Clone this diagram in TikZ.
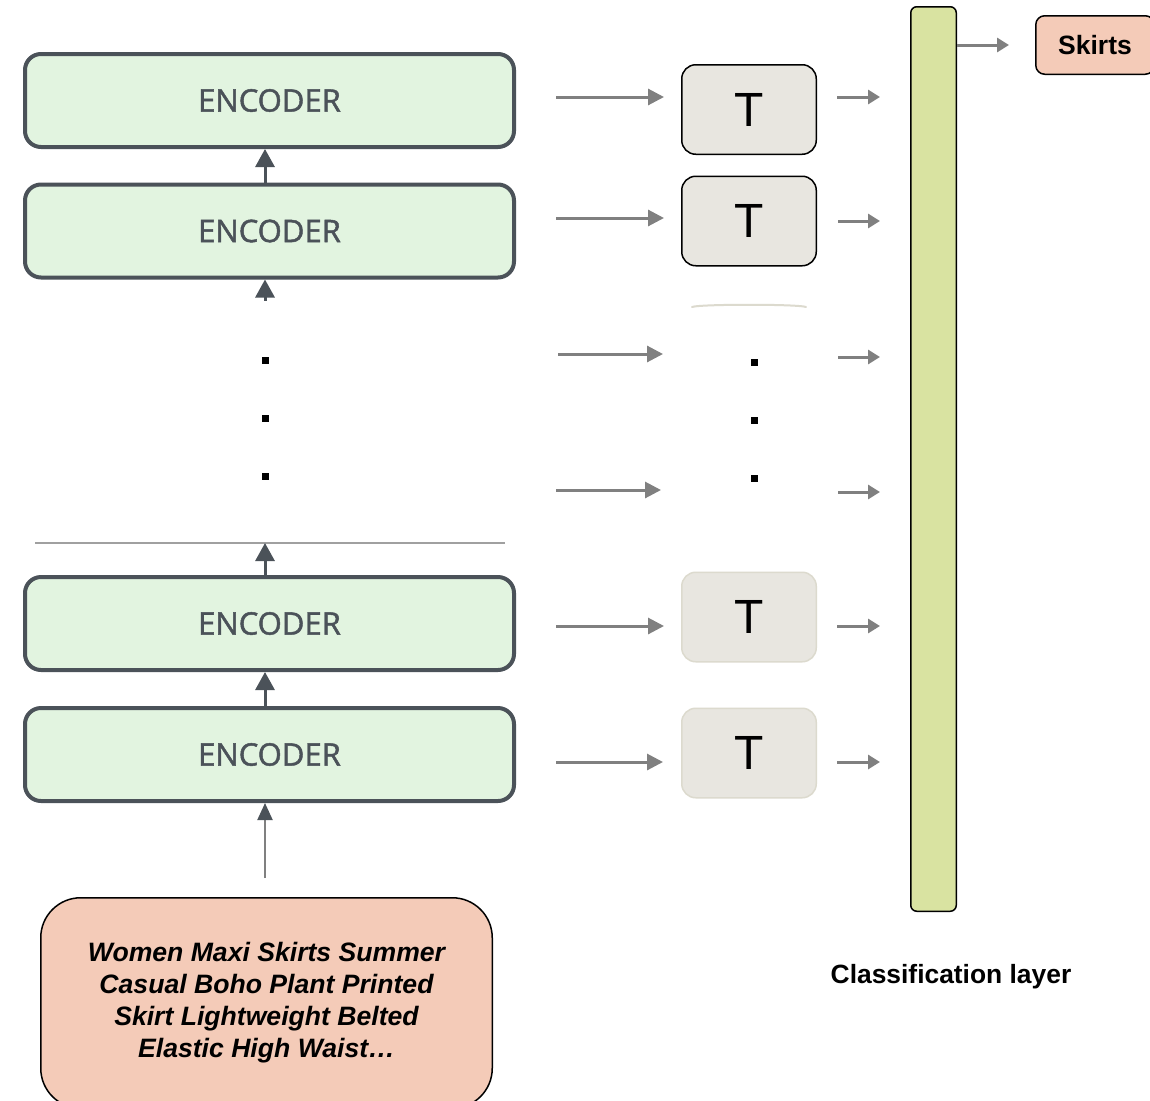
\documentclass[tikz,border=0pt]{standalone}
\usepackage{fontspec}
\setmainfont{Liberation Sans}
\newfontfamily\encfont[FakeBold=1.5]{Open Sans}
\usetikzlibrary{arrows.meta}
\definecolor{encfill}{HTML}{E2F4E0}
\definecolor{encdraw}{HTML}{4B5259}
\definecolor{tfill}{HTML}{E8E6E0}
\definecolor{tlight}{HTML}{DCDACE}
\definecolor{barfill}{HTML}{D9E3A1}
\definecolor{peach}{HTML}{F4CBB8}
\definecolor{arrgray}{HTML}{808080}
\definecolor{cutgray}{HTML}{A0A0A0}
\tikzset{
  enc/.style={draw=encdraw, line width=4pt, fill=encfill, rounded corners=16pt,
    minimum width=489pt, minimum height=93pt, inner sep=0pt,
    font=\encfont\fontsize{31}{33}\selectfont, text=encdraw},
  uparrow/.style={draw=encdraw, line width=3pt, -{Triangle[length=18pt,width=19pt]}},
  inarrow/.style={draw=arrgray, line width=2pt, -{Triangle[length=17pt,width=15pt,color=encdraw]}},
  garrow/.style={draw=arrgray, line width=3pt, -{Triangle[length=16pt,width=16pt]}},
  sarrow/.style={draw=arrgray, line width=3pt, -{Triangle[length=12pt,width=14pt]}},
  tbox/.style={draw=black, line width=1.5pt, fill=tfill, rounded corners=14pt,
    minimum width=134.5pt, minimum height=89.5pt, inner sep=0pt,
    font=\fontsize{48}{48}\selectfont},
  tboxlight/.style={tbox, draw=tlight},
  dotmark/.style={fill=black, minimum size=7pt, inner sep=0pt},
  peachbox/.style={draw=black, line width=1.5pt, fill=peach, inner sep=0pt},
}
\begin{document}
\begin{tikzpicture}[x=1pt,y=-1pt]
\clip (0,0) rectangle (1150,1100);
\fill[white] (0,0) rectangle (1150,1100);

% encoders
\node[enc] (e1) at (269.5,100.5) {ENCODER};
\node[enc] (e2) at (269.5,231) {ENCODER};
\node[enc] (e3) at (269.5,623.5) {ENCODER};
\node[enc] (e4) at (269.5,754.5) {ENCODER};

% cut-off box edge above e3
\coordinate (cutL) at (35,543);
\coordinate (cutR) at (505,543);
\coordinate (cutM) at (265,543);
\draw[cutgray, line width=1.5pt] (cutL) -- (cutR);

% up arrows (column at x = 265)
\draw[uparrow] ([xshift=-4.5pt]e2.north) -- ([xshift=-4.5pt]e1.south);
\draw[uparrow] ([xshift=-4.5pt,yshift=-21pt]e2.south) -- ([xshift=-4.5pt]e2.south);
\draw[uparrow] ([xshift=-4.5pt]e3.north) -- (cutM);
\draw[uparrow] ([xshift=-4.5pt]e4.north) -- ([xshift=-4.5pt]e3.south);

% input
\node[peachbox, rounded corners=40pt, minimum width=451.5pt, minimum height=210.5pt,
  align=center, font=\bfseries\itshape\fontsize{26.6}{32}\selectfont]
  (input) at (266.5,1003) {Women Maxi Skirts Summer\\Casual Boho Plant Printed\\Skirt Lightweight Belted\\Elastic High Waist…};
\coordinate (inTail) at (265,878);
\draw[inarrow] (inTail) -- ([xshift=-4.5pt]e4.south);

% left dots
\node[dotmark] (ld1) at (265,360) {};
\node[dotmark] (ld2) at (265,418) {};
\node[dotmark] (ld3) at (265,476) {};

% T boxes
\node[tbox] (t1) at (749,109.5) {T};
\node[tbox] (t2) at (749,221) {T};
\node[tboxlight] (t3) at (749,617) {T};
\node[tboxlight] (t4) at (749,753) {T};
\draw[tlight, line width=2pt, line cap=round] (692,307) .. controls (700,304) and (798,304) .. (806,307);

% middle dots
\node[dotmark] (md1) at (754,362) {};
\node[dotmark] (md2) at (754,420) {};
\node[dotmark] (md3) at (754,478) {};

% classification bar
\node[draw=black, line width=1.5pt, fill=barfill, rounded corners=6pt,
  minimum width=45.5pt, minimum height=904.5pt, inner sep=0pt] (bar) at (933.5,459) {};

% arrows encoder -> T
\draw[garrow, shorten <=40pt, shorten >=17pt] (e1.east |- 0,97) -- (t1.west |- 0,97);
\draw[garrow, shorten <=40pt, shorten >=17pt] (e2.east |- 0,218) -- (t2.west |- 0,218);
\coordinate (r3a) at (558,354); \coordinate (r3b) at (663,354);
\coordinate (r4a) at (556,490); \coordinate (r4b) at (661,490);
\draw[garrow] (r3a) -- (r3b);
\draw[garrow] (r4a) -- (r4b);
\draw[garrow, shorten <=40pt, shorten >=17pt] (e3.east |- 0,626) -- (t3.west |- 0,626);
\draw[garrow, shorten <=40pt, shorten >=18pt] (e4.east |- 0,762) -- (t4.west |- 0,762);

% arrows T -> bar
\draw[sarrow, shorten <=20pt, shorten >=30pt] (t1.east |- 0,97) -- (bar.west |- 0,97);
\draw[sarrow, shorten <=21pt, shorten >=30pt] (t2.east |- 0,221) -- (bar.west |- 0,221);
\coordinate (s3) at (838,357); \coordinate (s4) at (838,492);
\draw[sarrow, shorten >=30pt] (s3) -- (bar.west |- s3);
\draw[sarrow, shorten >=30pt] (s4) -- (bar.west |- s4);
\draw[sarrow, shorten <=20pt, shorten >=30pt] (t3.east |- 0,626) -- (bar.west |- 0,626);
\draw[sarrow, shorten <=20pt, shorten >=30pt] (t4.east |- 0,762) -- (bar.west |- 0,762);

% output
\node[peachbox, rounded corners=9pt, minimum width=118.5pt, minimum height=58.5pt,
  font=\bfseries\fontsize{26.5}{28}\selectfont] (skirts) at (1095,45) {Skirts};
\draw[sarrow, shorten >=26pt] (bar.east |- skirts) -- (skirts.west);

\node[font=\bfseries\fontsize{26.4}{28}\selectfont] (label) at (951,977) {Classification layer};
\end{tikzpicture}
\end{document}
